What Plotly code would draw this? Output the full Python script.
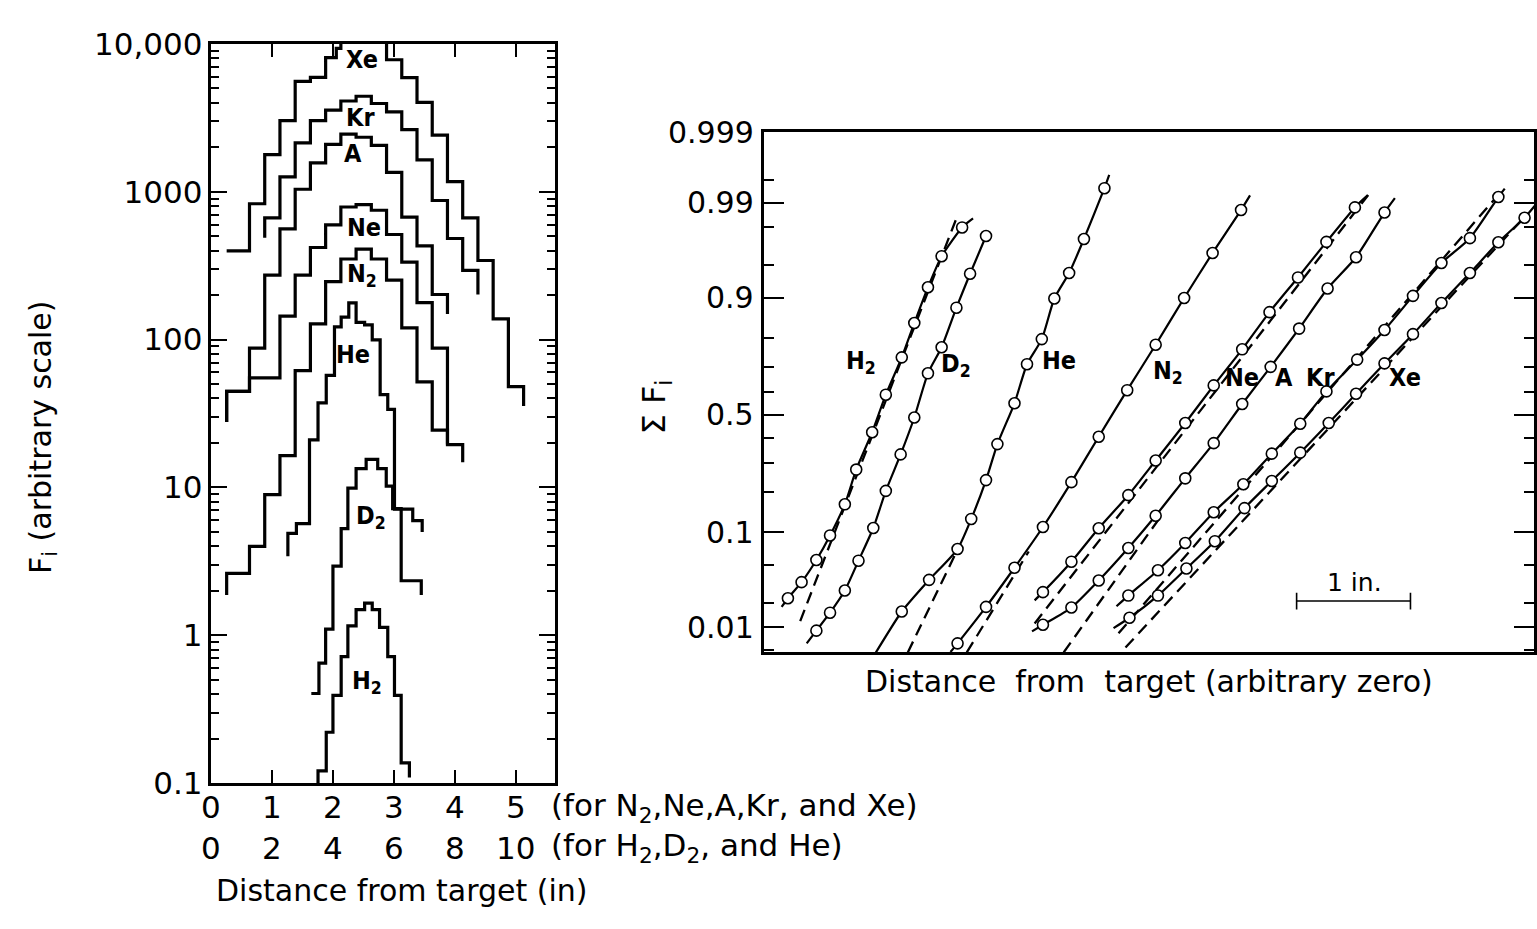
import math
from statistics import NormalDist
import plotly.graph_objects as go

W, H = 1537, 929
FONT = "DejaVu Sans"
LBL = "Liberation Sans Narrow, DejaVu Sans Condensed, Liberation Sans, Arial"

# ---------------- Left panel: F_i histograms (log scale) ----------------
# heavy gases, distance scale 0-5 in
xe_edges = [0.25, 0.625, 0.875, 1.125, 1.375, 1.625, 1.875, 2.05, 2.125, 2.875, 3.125,
            3.375, 3.625, 3.875, 4.125, 4.375, 4.625, 4.875, 5.125]
xe_vals = [399, 830, 1786, 3034, 5580, 5940, 8090, 9340, 12000, 7820, 5920, 4020, 2420,
           1172, 667, 343, 138, 48.1]
xe_start, xe_end = 399, 35.6

kr_edges = [0.875, 1.125, 1.375, 1.625, 1.875, 2.125, 2.375, 2.625, 2.875, 3.125, 3.375,
            3.625, 3.875, 4.125, 4.375]
kr_vals = [667, 1262, 2143, 3034, 3565, 4113, 4427, 3954, 3475, 2630, 1644, 873, 483, 294]
kr_start, kr_end = 489, 202

a_edges = [0.25, 0.625, 0.875, 1.125, 1.375, 1.625, 1.875, 2.125, 2.375, 2.625, 2.875,
           3.125, 3.375, 3.625, 3.875]
a_vals = [44.6, 87.7, 273, 562, 1040, 1567, 2094, 2455, 2339, 2061, 1355, 675, 431, 202]
a_start, a_end = 27.7, 149

ne_edges = [0.25, 0.625, 1.125, 1.375, 1.625, 1.875, 2.125, 2.375, 2.625, 2.875, 3.125,
            3.375, 3.625, 3.875, 4.125]
ne_vals = [44.6, 55.2, 144, 273, 420, 597, 789, 818, 750, 514, 334, 178, 87.7, 19.5]
ne_start, ne_end = 27.7, 14.8

n2_edges = [0.25, 0.625, 0.875, 1.125, 1.375, 1.625, 1.875, 2.125, 2.375, 2.625, 2.875,
            3.125, 3.375, 3.625, 3.875]
n2_vals = [2.62, 3.99, 8.95, 16.4, 61.8, 128, 247, 351, 409, 351, 253, 120, 51.8, 24.4]
n2_start, n2_end = 1.87, 19.5

# light gases, distance scale 0-10 in
he_edges = [2.51, 2.79, 3.22, 3.50, 3.77, 4.04, 4.26, 4.51, 4.75, 5.03, 5.28, 5.54, 5.79,
            6.01, 6.61, 6.92]
he_vals = [4.89, 5.69, 21.0, 37.4, 57.3, 122, 142, 177, 131, 126, 99.5, 42.4, 33.8, 7.13, 5.97]
he_start, he_end = 3.43, 5.0

d2_edges = [3.28, 3.53, 3.75, 3.99, 4.26, 4.48, 4.75, 5.08, 5.46, 5.74, 5.95, 6.23, 6.89]
d2_vals = [0.404, 0.649, 1.10, 2.94, 5.27, 9.9, 13.4, 15.5, 13.4, 10.2, 7.2, 2.34]
d2_start, d2_end = 0.404, 1.87

h2_edges = [3.50, 3.77, 3.99, 4.26, 4.48, 4.75, 5.03, 5.28, 5.52, 5.79, 6.01, 6.23, 6.50]
h2_vals = [0.121, 0.221, 0.393, 0.718, 1.16, 1.49, 1.65, 1.49, 1.13, 0.718, 0.393, 0.137]
h2_start, h2_end = 0.1, 0.109

left_tick_vals = [0.1, 1, 10, 100, 1000, 10000]
left_tick_text = ["0.1", "1", "10", "100", "1000", "10,000"]
row1_ticks = ["0", "1", "2", "3", "4", "5"]
row2_ticks = ["0", "2", "4", "6", "8", "10"]

# ---------------- Right panel: cumulative Sum F_i (probability scale) ----------------
h2_rx = [0.21, 0.33, 0.46, 0.58, 0.71, 0.81, 0.95, 1.07, 1.21, 1.32, 1.44, 1.56, 1.74]
h2_rf = [0.0224, 0.0336, 0.0562, 0.0936, 0.164, 0.275, 0.425, 0.588, 0.736, 0.843, 0.919, 0.959, 0.980]
h2_curve = (0.155, 0.0178, 1.836, 0.9843)
h2_fit = (0.318, 0.0120, 1.696, 0.9851)

d2_rx = [0.46, 0.58, 0.71, 0.83, 0.96, 1.07, 1.20, 1.32, 1.44, 1.56, 1.69, 1.81, 1.95]
d2_rf = [0.0091, 0.0152, 0.0273, 0.0553, 0.108, 0.203, 0.333, 0.489, 0.676, 0.771, 0.880, 0.939, 0.975]
d2_curve = (0.375, 0.0062, 1.95, 0.975)
d2_fit = None

he_rx = [0.97, 1.21, 1.45, 1.70, 1.82, 1.95, 2.05, 2.20, 2.31, 2.44, 2.55, 2.68, 2.81, 2.99]
he_rf = [0.00432, 0.0157, 0.0355, 0.0711, 0.1275, 0.238, 0.375, 0.551, 0.711, 0.797, 0.899,
         0.940, 0.973, 0.9935]
he_curve = (0.93, 0.0034, 3.032, 0.99572)
he_fit = (1.263, 0.00466, 1.684, 0.0649)

n2_rx = [1.70, 1.95, 2.20, 2.45, 2.70, 2.94, 3.19, 3.44, 3.69, 3.94, 4.19]
n2_rf = [0.0062, 0.0178, 0.0472, 0.110, 0.231, 0.406, 0.607, 0.779, 0.900, 0.962, 0.9876]
n2_curve = (1.638, 0.00472, 4.269, 0.9919)
n2_fit = (1.781, 0.00466, 2.325, 0.0675)

ne_rx = [2.45, 2.70, 2.94, 3.20, 3.44, 3.70, 3.95, 4.20, 4.44, 4.69, 4.94, 5.19]
ne_rf = [0.0262, 0.0541, 0.1075, 0.190, 0.309, 0.465, 0.627, 0.764, 0.870, 0.934, 0.971, 0.9885]
ne_curve = (2.377, 0.0212, 5.301, 0.9919)
ne_fit = (2.377, 0.0112, 5.307, 0.9920)

a_rx = [2.45, 2.70, 2.94, 3.20, 3.44, 3.70, 3.95, 4.20, 4.45, 4.70, 4.95, 5.20, 5.45]
a_rf = [0.0108, 0.0175, 0.035, 0.0727, 0.135, 0.244, 0.379, 0.548, 0.701, 0.828, 0.917, 0.958, 0.9867]
a_curve = (2.354, 0.0089, 5.541, 0.9912)
a_fit = (2.632, 0.00466, 3.465, 0.126)

kr_rx = [3.20, 3.46, 3.70, 3.95, 4.21, 4.46, 4.71, 4.94, 5.21, 5.45, 5.70, 5.95, 6.20, 6.45]
kr_rf = [0.024, 0.0446, 0.0805, 0.1435, 0.224, 0.336, 0.462, 0.602, 0.728, 0.824, 0.904, 0.952,
         0.9736, 0.9915]
kr_curve = (3.096, 0.0181, 6.506, 0.9934)
kr_fit = (3.114, 0.0084, 6.50, 0.9935)

xe_rx = [3.21, 3.46, 3.71, 3.96, 4.22, 4.46, 4.71, 4.96, 5.20, 5.45, 5.70, 5.95, 6.20, 6.45, 6.68]
xe_rf = [0.0132, 0.024, 0.0464, 0.0835, 0.154, 0.235, 0.340, 0.465, 0.592, 0.714, 0.812, 0.890,
         0.940, 0.9707, 0.9846]
xe_curve = (3.070, 0.0098, 6.772, 0.9891)
xe_fit = (3.175, 0.00545, 6.71, 0.9864)

prob_major = [0.01, 0.1, 0.5, 0.9, 0.99, 0.999]
prob_major_text = ["0.01", "0.1", "0.5", "0.9", "0.99", "0.999"]
prob_minor = [0.005, 0.02, 0.05, 0.2, 0.3, 0.4, 0.6, 0.7, 0.8, 0.95, 0.98, 0.995]

# ---------------- helpers ----------------
nd = NormalDist()
def z(p):
    return nd.inv_cdf(p)

def px(x):
    return x / W

def py(y):
    return 1 - y / H

def step_path(edges, vals, start, end, k):
    xs = [edges[0] * k]
    ys = [start]
    for i, v in enumerate(vals):
        xs += [edges[i] * k, edges[i + 1] * k]
        ys += [v, v]
    xs.append(edges[-1] * k)
    ys.append(end)
    return xs, ys

fig = go.Figure()

hists = [
    (xe_edges, xe_vals, xe_start, xe_end, 1.0),
    (kr_edges, kr_vals, kr_start, kr_end, 1.0),
    (a_edges, a_vals, a_start, a_end, 1.0),
    (ne_edges, ne_vals, ne_start, ne_end, 1.0),
    (n2_edges, n2_vals, n2_start, n2_end, 1.0),
    (he_edges, he_vals, he_start, he_end, 0.5),
    (d2_edges, d2_vals, d2_start, d2_end, 0.5),
    (h2_edges, h2_vals, h2_start, h2_end, 0.5),
]
for e, v, s, en, k in hists:
    xs, ys = step_path(e, v, s, en, k)
    fig.add_trace(go.Scatter(x=xs, y=ys, mode="lines", xaxis="x", yaxis="y",
                             line=dict(color="black", width=3.2), hoverinfo="skip"))

gases = [
    (h2_rx, h2_rf, h2_curve, h2_fit),
    (d2_rx, d2_rf, d2_curve, d2_fit),
    (he_rx, he_rf, he_curve, he_fit),
    (n2_rx, n2_rf, n2_curve, n2_fit),
    (ne_rx, ne_rf, ne_curve, ne_fit),
    (a_rx, a_rf, a_curve, a_fit),
    (kr_rx, kr_rf, kr_curve, kr_fit),
    (xe_rx, xe_rf, xe_curve, xe_fit),
]
for rx, rf, cv, fit in gases:
    if fit is not None:
        fig.add_trace(go.Scatter(x=[fit[0], fit[2]], y=[z(fit[1]), z(fit[3])], mode="lines",
                                 xaxis="x2", yaxis="y2",
                                 line=dict(color="black", width=2.3, dash="12px,7px"),
                                 hoverinfo="skip"))
    cx = [cv[0]] + list(rx) + ([cv[2]] if cv[2] != rx[-1] else [])
    cy = [z(cv[1])] + [z(f) for f in rf] + ([z(cv[3])] if cv[2] != rx[-1] else [])
    fig.add_trace(go.Scatter(x=cx, y=cy, mode="lines", xaxis="x2", yaxis="y2",
                             line=dict(color="black", width=2.2, shape="spline", smoothing=0.6),
                             hoverinfo="skip"))
    fig.add_trace(go.Scatter(x=rx, y=[z(f) for f in rf], mode="markers", xaxis="x2", yaxis="y2",
                             cliponaxis=False,
                             marker=dict(symbol="circle", size=11, color="white",
                                         line=dict(color="black", width=1.6)),
                             hoverinfo="skip"))

# 1-inch scale bar
bar_z = z(0.0208)
fig.add_trace(go.Scatter(x=[4.678, 5.678], y=[bar_z, bar_z], mode="lines+markers",
                         xaxis="x2", yaxis="y2",
                         line=dict(color="black", width=1.6),
                         marker=dict(symbol="line-ns-open", size=12,
                                     line=dict(color="black", width=1.6)),
                         hoverinfo="skip"))

ann = []
def A(text, x, y, xref="paper", yref="paper", size=30, xanchor="center", yanchor="middle",
      angle=0, family=FONT, bold=False):
    t = "<b>%s</b>" % text if bold else text
    ann.append(dict(text=t, x=x, y=y, xref=xref, yref=yref, showarrow=False,
                    xanchor=xanchor, yanchor=yanchor, textangle=angle,
                    font=dict(family=family, size=size, color="black")))

# left panel x labels
for i, t in enumerate(row1_ticks):
    A(t, i, py(821), xref="x", size=31)
for i, t in enumerate(row2_ticks):
    A(t, i, py(863), xref="x", size=31)
A("(for N<sub>2</sub>,Ne,A,Kr, and Xe)", px(550), py(821), xanchor="left", size=31)
A("(for H<sub>2</sub>,D<sub>2</sub>, and He)", px(550), py(863), xanchor="left", size=31)
A("Distance from target (in)", px(403), py(908), size=30)
A("F<sub>i</sub> (arbitrary scale)", px(42), py(436), angle=-90, size=30)

# left panel series labels
left_labels = [("Xe", 2.48, 7820), ("Kr", 2.44, 3160), ("A", 2.33, 1811), ("Ne", 2.50, 572),
               ("N<sub>2</sub>", 2.47, 272), ("He", 2.33, 79), ("D<sub>2</sub>", 2.62, 6.36),
               ("H<sub>2</sub>", 2.55, 0.48)]
for t, x, yv in left_labels:
    A(t, x, math.log10(yv), xref="x", yref="y", size=25, family=LBL, bold=True)

# right panel labels
right_labels = [("H<sub>2</sub>", 0.85, 0.58), ("D<sub>2</sub>", 1.69, 0.55), ("He", 2.59, 0.60),
                ("N<sub>2</sub>", 3.55, 0.47), ("Ne", 4.20, 0.41), ("A", 4.57, 0.41),
                ("Kr", 4.89, 0.41), ("Xe", 5.63, 0.41)]
for t, x, yz in right_labels:
    A(t, x, yz, xref="x2", yref="y2", size=25, family=LBL, bold=True)

A("1 in.", 5.19, -1.83, xref="x2", yref="y2", size=25)
A("Distance  from  target (arbitrary zero)", px(1150), py(690), size=30)
A("\u03a3 F<sub>i</sub>", px(657), py(405), angle=-90, size=32)
for p, t in zip(prob_major, prob_major_text):
    A(t, px(757), z(p), yref="y2", xanchor="right", size=30)

ZTOP = 3.1
ZBOT = -2.6
fig.update_layout(
    width=W, height=H, margin=dict(l=0, r=0, t=0, b=0),
    paper_bgcolor="white", plot_bgcolor="white", showlegend=False,
    font=dict(family=FONT, color="black"),
    annotations=ann,
    xaxis=dict(domain=[px(211.7), px(555.7)], range=[0, 5.64], showgrid=False, zeroline=False,
               showline=True, linecolor="black", linewidth=2.5, mirror="allticks",
               ticks="inside", ticklen=13, tickwidth=2, tickcolor="black",
               tickvals=[1, 2, 3, 4, 5], showticklabels=False),
    yaxis=dict(domain=[py(796), py(27)], type="log", range=[-1, 4], showgrid=False,
               zeroline=False, showline=True, linecolor="black", linewidth=2.5,
               mirror="allticks", ticks="inside", ticklen=16, tickwidth=2, tickcolor="black",
               tickvals=left_tick_vals, ticktext=left_tick_text,
               tickfont=dict(family=FONT, size=31, color="black"),
               minor=dict(ticks="inside", ticklen=8, tickwidth=1.5, tickcolor="black",
                          tickvals=[m * 10 ** d for d in range(-1, 4) for m in range(2, 10)])),
    xaxis2=dict(domain=[px(765), px(1536)], range=[0, 6.763], anchor="y2", showgrid=False,
                zeroline=False, showline=True, linecolor="black", linewidth=2.5, mirror=True,
                ticks="", showticklabels=False),
    yaxis2=dict(domain=[py(413 + 95 * 2.6), py(413 - 95 * ZTOP)], range=[ZBOT, ZTOP],
                anchor="x2", showgrid=False,
                zeroline=False, showline=True, linecolor="black", linewidth=2.5,
                mirror="allticks", ticks="inside", ticklen=20, tickwidth=2, tickcolor="black",
                tickvals=[z(p) for p in prob_major], showticklabels=False,
                minor=dict(ticks="inside", ticklen=10, tickwidth=1.5, tickcolor="black",
                           tickvals=[z(p) for p in prob_minor])),
)

fig.write_html("out.html")
